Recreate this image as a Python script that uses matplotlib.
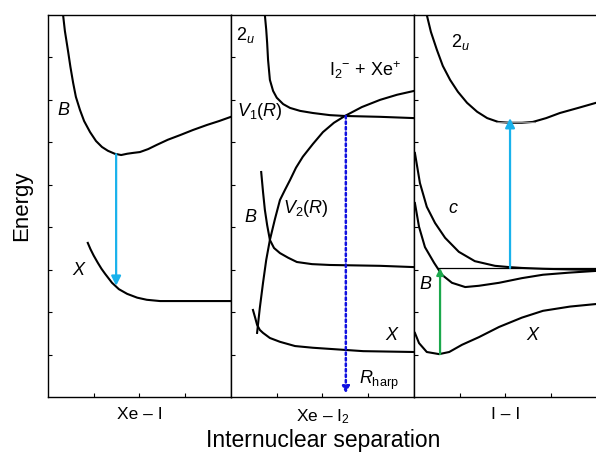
import matplotlib.pyplot as plt

plt.rcParams['font.family'] = ['Liberation Sans', 'DejaVu Sans']
plt.rcParams['mathtext.fontset'] = 'custom'
plt.rcParams['mathtext.rm'] = 'Liberation Sans'
plt.rcParams['mathtext.it'] = 'Liberation Sans:italic'

# Ejes: x de 0 a 4 en cada panel, energía de 0 a 9 (unidades arbitrarias)
# --- Panel 1: Xe - I ---
b1_x = [0.33, 0.37, 0.44, 0.49, 0.55, 0.61, 0.70, 0.79, 0.92, 1.05, 1.18, 1.31, 1.46,
        1.60, 1.73, 1.86, 2.01, 2.19, 2.38, 2.62, 2.89, 3.17, 3.48, 3.74, 4.0]
b1_y = [9.0, 8.62, 8.14, 7.78, 7.40, 7.07, 6.76, 6.50, 6.24, 6.03, 5.89, 5.80, 5.73,
        5.70, 5.73, 5.75, 5.77, 5.84, 5.94, 6.06, 6.17, 6.29, 6.41, 6.50, 6.60]
x1_x = [0.87, 0.93, 1.00, 1.09, 1.17, 1.25, 1.40, 1.55, 1.73, 1.95, 2.16, 2.45, 2.73, 4.0]
x1_y = [3.63, 3.48, 3.33, 3.16, 3.02, 2.90, 2.69, 2.54, 2.43, 2.34, 2.29, 2.26, 2.26, 2.26]
flecha1 = (1.49, 5.72, 2.62)  # x, y inicio, y fin

# --- Panel 2: Xe - I2 ---
u2_x = [0.74, 0.77, 0.79, 0.81, 0.85, 0.92, 1.00, 1.14, 1.29, 1.51, 1.79, 2.16, 2.49, 3.26, 4.0]
u2_y = [9.0, 8.65, 8.34, 7.94, 7.47, 7.21, 7.05, 6.90, 6.81, 6.74, 6.69, 6.64, 6.62, 6.60, 6.57]
v2_x = [0.57, 0.63, 0.70, 0.77, 0.85, 0.96, 1.07, 1.18, 1.29, 1.42, 1.57, 1.79, 2.01,
        2.25, 2.49, 2.86, 3.26, 3.63, 4.0]
v2_y = [1.51, 2.10, 2.69, 3.23, 3.70, 4.19, 4.64, 4.88, 5.11, 5.40, 5.66, 5.96, 6.24,
        6.46, 6.62, 6.83, 7.00, 7.12, 7.21]
b2_x = [0.66, 0.70, 0.74, 0.79, 0.85, 0.94, 1.07, 1.25, 1.44, 1.77, 2.16, 3.26, 4.0]
b2_y = [5.30, 4.83, 4.41, 4.05, 3.70, 3.51, 3.39, 3.28, 3.18, 3.13, 3.11, 3.09, 3.06]
x2_x = [0.48, 0.53, 0.57, 0.63, 0.70, 0.85, 1.07, 1.40, 1.79, 2.89, 4.0]
x2_y = [2.05, 1.86, 1.70, 1.58, 1.51, 1.39, 1.30, 1.20, 1.16, 1.08, 1.06]
r_harp = (2.51, 6.62, 0.08)

# --- Panel 3: I - I ---
u3_x = [0.28, 0.37, 0.50, 0.63, 0.79, 0.96, 1.16, 1.38, 1.60, 1.84, 2.10, 2.36, 2.60,
        2.89, 3.19, 3.59, 3.98]
u3_y = [9.0, 8.60, 8.18, 7.80, 7.47, 7.19, 6.93, 6.72, 6.57, 6.48, 6.46, 6.46, 6.48,
        6.57, 6.69, 6.81, 6.93]
c3_x = [0.02, 0.13, 0.28, 0.46, 0.68, 0.98, 1.33, 1.77, 2.08, 2.36, 2.82, 3.98]
c3_y = [5.75, 5.04, 4.48, 4.10, 3.75, 3.42, 3.20, 3.09, 3.06, 3.04, 3.02, 2.99]
b3_x = [0.02, 0.11, 0.24, 0.44, 0.61, 0.83, 1.12, 1.42, 1.86, 2.36, 2.82, 3.40, 3.98]
b3_y = [4.57, 4.01, 3.53, 3.16, 2.88, 2.69, 2.59, 2.62, 2.69, 2.80, 2.88, 2.93, 2.97]
x3_x = [0.02, 0.11, 0.28, 0.55, 0.77, 1.05, 1.42, 1.86, 2.36, 2.82, 3.41, 3.98]
x3_y = [1.51, 1.27, 1.06, 1.01, 1.06, 1.23, 1.41, 1.65, 1.87, 2.03, 2.13, 2.19]
nivel_2u = (1.81, 2.64, 6.47)
asintota_b = (0.53, 3.98, 3.04)
flecha3_azul = (2.10, 3.04, 6.57)
flecha3_verde = (0.57, 1.01, 3.04)

etiquetas_x = ['Xe – I', 'Xe – I$_2$', 'I – I']

azul = '#19b2ec'
verde = '#1ba84c'

fig = plt.figure(figsize=(5.96, 4.57), dpi=100)
ancho, alto = 0.307, 0.836
izq = [0.0805, 0.3876, 0.6946]
axs = [fig.add_axes([l, 0.1313, ancho, alto]) for l in izq]

for ax, lab in zip(axs, etiquetas_x):
    ax.set_xlim(0, 4)
    ax.set_ylim(0, 9)
    ax.set_xticks([1, 2, 3])
    ax.set_yticks(range(1, 9))
    ax.set_xticklabels([])
    ax.set_yticklabels([])
    ax.tick_params(direction='in', length=3, width=0.8, top=False, right=False)
    ax.set_xlabel(lab, fontsize=12.5, labelpad=4)
    for s in ax.spines.values():
        s.set_linewidth(1.0)
axs[2].spines['right'].set_visible(False)

lw = 1.5
fs = 13
a1, a2, a3 = axs

# Panel 1
a1.plot(b1_x, b1_y, color='black', lw=lw)
a1.plot(x1_x, x1_y, color='black', lw=lw)
a1.annotate('', xy=(flecha1[0], flecha1[2]), xytext=(flecha1[0], flecha1[1]),
            arrowprops=dict(arrowstyle='-|>', color=azul, lw=1.6, mutation_scale=14, shrinkA=0, shrinkB=0))
a1.text(0.33, 6.74, 'B', fontsize=fs, style='italic', ha='center', va='center')
a1.text(0.66, 2.99, 'X', fontsize=fs, style='italic', ha='center', va='center')
a1.set_ylabel('Energy', fontsize=16, labelpad=8)

# Panel 2
for xs, ys in [(u2_x, u2_y), (v2_x, v2_y), (b2_x, b2_y), (x2_x, x2_y)]:
    a2.plot(xs, ys, color='black', lw=lw)
a2.annotate('', xy=(r_harp[0], r_harp[2]), xytext=(r_harp[0], r_harp[1]),
            arrowprops=dict(arrowstyle='-|>', color='#1010e0', lw=1.8, linestyle=(0, (1, 1.2)),
                            mutation_scale=10, shrinkA=0, shrinkB=0))
a2.text(0.31, 8.53, '2$_{\\mathit{u}}$', fontsize=fs, ha='center', va='center')
a2.text(0.62, 6.72, '$\\mathit{V}_1(\\mathit{R})$', fontsize=fs, ha='center', va='center')
a2.text(2.93, 7.70, 'I$_2$$^{-}$ + Xe$^{+}$', fontsize=fs, ha='center', va='center')
a2.text(0.42, 4.24, 'B', fontsize=fs, style='italic', ha='center', va='center')
a2.text(1.64, 4.45, '$\\mathit{V}_2(\\mathit{R})$', fontsize=fs, ha='center', va='center')
a2.text(3.50, 1.46, 'X', fontsize=fs, style='italic', ha='center', va='center')
a2.text(3.24, 0.38, '$\\mathit{R}_{\\rm harp}$', fontsize=fs, ha='center', va='center')

# Panel 3
for xs, ys in [(u3_x, u3_y), (c3_x, c3_y), (b3_x, b3_y), (x3_x, x3_y)]:
    a3.plot(xs, ys, color='black', lw=lw)
a3.plot([nivel_2u[0], nivel_2u[1]], [nivel_2u[2], nivel_2u[2]], color='#888888', lw=0.8)
a3.plot([asintota_b[0], asintota_b[1]], [asintota_b[2], asintota_b[2]], color='black', lw=0.9)
a3.annotate('', xy=(flecha3_azul[0], flecha3_azul[2]), xytext=(flecha3_azul[0], flecha3_azul[1]),
            arrowprops=dict(arrowstyle='-|>', color=azul, lw=1.6, mutation_scale=14, shrinkA=0, shrinkB=0))
a3.annotate('', xy=(flecha3_verde[0], flecha3_verde[2]), xytext=(flecha3_verde[0], flecha3_verde[1]),
            arrowprops=dict(arrowstyle='-|>', color=verde, lw=1.6, mutation_scale=10, shrinkA=0, shrinkB=0))
a3.text(1.01, 8.36, '2$_{\\mathit{u}}$', fontsize=fs, ha='center', va='center')
a3.text(0.85, 4.45, 'c', fontsize=fs, style='italic', ha='center', va='center')
a3.text(0.24, 2.64, 'B', fontsize=fs, style='italic', ha='center', va='center')
a3.text(2.58, 1.46, 'X', fontsize=fs, style='italic', ha='center', va='center')

fig.text(0.542, 0.012, 'Internuclear separation', fontsize=16.5, ha='center', va='bottom')

fig.savefig('out.png', dpi=100)
